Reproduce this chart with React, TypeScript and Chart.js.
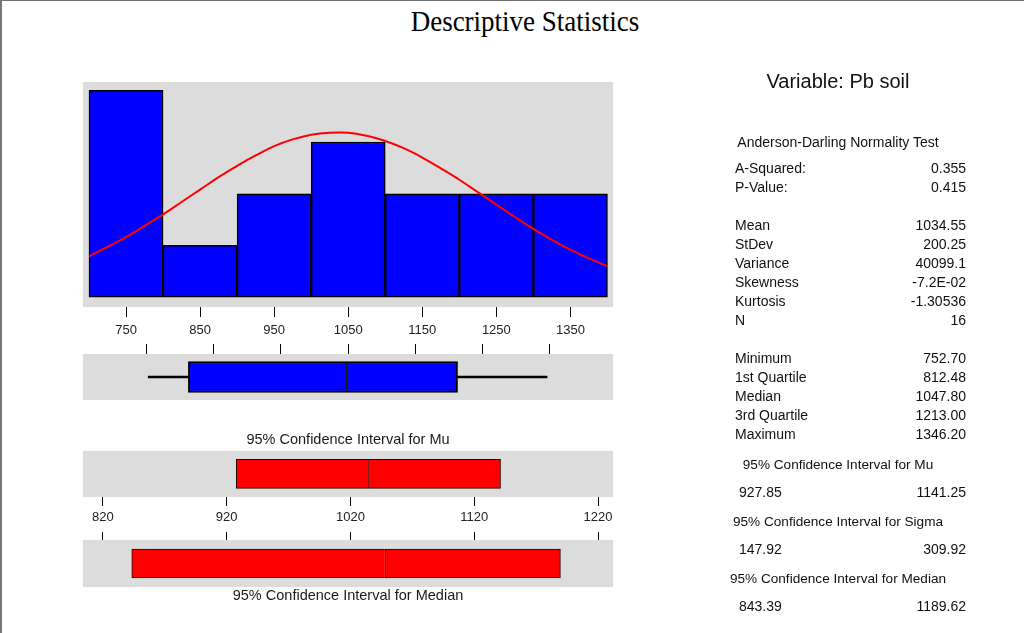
import React, { useEffect, useRef } from "react";
import { Chart, registerables } from "chart.js";

Chart.register(...registerables);

// ---------------- data ----------------
const binCenters = [750, 850, 950, 1050, 1150, 1250, 1350];
const binCounts = [4, 1, 2, 3, 2, 2, 2];
const histTicks = [750, 850, 950, 1050, 1150, 1250, 1350];

// fitted normal curve (in count units)
const curveX = [700, 725, 750, 775, 800, 825, 850, 875, 900, 925, 950, 975, 1000, 1025, 1050, 1075, 1100, 1125, 1150, 1175, 1200, 1225, 1250, 1275, 1300, 1325, 1350, 1375, 1400];
const curveY = [0.79, 0.97, 1.16, 1.38, 1.6, 1.84, 2.08, 2.32, 2.54, 2.74, 2.92, 3.05, 3.14, 3.18, 3.18, 3.12, 3.02, 2.88, 2.7, 2.49, 2.27, 2.03, 1.79, 1.55, 1.32, 1.11, 0.92, 0.75, 0.6];

const fiveNumbers = [752.7, 812.48, 1047.8, 1213.0, 1346.2]; // min, q1, median, q3, max
const boxTicks = [750, 850, 950, 1050, 1150, 1250, 1350];

const muInterval = [927.85, 1034.55, 1141.25]; // low, mean, high
const medianInterval = [843.39, 1047.8, 1189.62]; // low, median, high
const sigmaInterval = [147.92, 309.92];
const ciTicks = [820, 920, 1020, 1120, 1220];

const adLabels = ["A-Squared:", "P-Value:"];
const adValues = ["0.355", "0.415"];
const momentLabels = ["Mean", "StDev", "Variance", "Skewness", "Kurtosis", "N"];
const momentValues = ["1034.55", "200.25", "40099.1", "-7.2E-02", "-1.30536", "16"];
const quantLabels = ["Minimum", "1st Quartile", "Median", "3rd Quartile", "Maximum"];

// ---------------- styles ----------------
const SANS = "'Liberation Sans', Arial, sans-serif";
const PANEL = "#dcdcdc";
const W = 1024;
const H = 633;

const panelBg = {
  id: "panelBg",
  beforeDraw(chart: any) {
    const { ctx, chartArea: a } = chart;
    ctx.save();
    ctx.fillStyle = PANEL;
    ctx.fillRect(a.left, a.top, a.right - a.left, a.bottom - a.top);
    ctx.restore();
  },
};

const setTicks = (vals: number[]) => (s: any) => {
  s.ticks = vals.map((v) => ({ value: v }));
};

const tickFont = { family: SANS, size: 13 };

function histConfig(): any {
  return {
    type: "bar",
    data: {
      datasets: [
        {
          type: "line",
          data: curveX.map((x, i) => ({ x, y: curveY[i] })),
          borderColor: "#ff0000",
          borderWidth: 2,
          pointRadius: 0,
          tension: 0.4,
          order: 0,
        },
        {
          type: "bar",
          data: binCenters.map((x, i) => ({ x, y: binCounts[i] })),
          backgroundColor: "#0000ff",
          borderColor: "#000000",
          borderWidth: 1.5,
          borderSkipped: false,
          barPercentage: 1,
          categoryPercentage: 1,
          order: 1,
        },
      ],
    },
    options: {
      responsive: false,
      animation: false,
      events: [],
      layout: { padding: { left: 83, right: W - 613, top: 82, bottom: H - 307 - 40 } },
      plugins: { legend: { display: false }, tooltip: { enabled: false } },
      scales: {
        x: {
          type: "linear",
          offset: false,
          min: 691.9,
          max: 1407.5,
          afterBuildTicks: setTicks(histTicks),
          afterFit: (s: any) => {
            s.height = 40;
          },
          grid: { offset: false, drawOnChartArea: false, tickLength: 10, color: "#000", lineWidth: 1 },
          border: { display: false },
          ticks: {
            padding: 6,
            color: "#222",
            font: tickFont,
            maxRotation: 0,
            autoSkip: false,
            callback: (v: any) => String(v),
          },
        },
        y: { type: "linear", display: false, min: -0.19, max: 4.16 },
      },
    },
    plugins: [panelBg],
  };
}

function boxConfig(): any {
  const [mn, q1, md, q3, mx] = fiveNumbers;
  const common = { grouped: false, borderSkipped: false };
  return {
    type: "bar",
    data: {
      labels: ["Pb soil"],
      datasets: [
        { ...common, data: [[q1, md]], backgroundColor: "#0000ff", borderColor: "#000", borderWidth: { top: 2, bottom: 2, left: 2, right: 1 }, barThickness: 31 },
        { ...common, data: [[md, q3]], backgroundColor: "#0000ff", borderColor: "#000", borderWidth: { top: 2, bottom: 2, left: 1, right: 2 }, barThickness: 31 },
        { ...common, data: [[mn, q1]], backgroundColor: "#000", borderWidth: 0, barThickness: 2 },
        { ...common, data: [[q3, mx]], backgroundColor: "#000", borderWidth: 0, barThickness: 2 },
      ],
    },
    options: {
      indexAxis: "y",
      responsive: false,
      animation: false,
      events: [],
      layout: { padding: { left: 83, right: W - 613, top: 354 - 12, bottom: H - 400 } },
      plugins: { legend: { display: false }, tooltip: { enabled: false } },
      scales: {
        x: {
          type: "linear",
          position: "top",
          min: 655.7,
          max: 1444.3,
          afterBuildTicks: setTicks(boxTicks),
          afterFit: (s: any) => {
            s.height = 12;
          },
          grid: { drawOnChartArea: false, tickLength: 10, color: "#000", lineWidth: 1 },
          border: { display: false },
          ticks: { callback: () => "", padding: 0, autoSkip: false },
        },
        y: { type: "category", display: false },
      },
    },
    plugins: [panelBg],
  };
}

function ciConfig(kind: "mu" | "median"): any {
  const vals = kind === "mu" ? muInterval : medianInterval;
  const [lo, mid, hi] = vals;
  const common = { grouped: false, borderSkipped: false, barThickness: 29, backgroundColor: "#ff0000", borderColor: "#2a0000" };
  const isMu = kind === "mu";
  return {
    type: "bar",
    data: {
      labels: [kind],
      datasets: [
        { ...common, data: [[lo, mid]], borderWidth: { top: 1, bottom: 1, left: 1, right: 0 } },
        { ...common, data: [[mid, hi]], borderWidth: { top: 1, bottom: 1, left: 1, right: 1 } },
      ],
    },
    options: {
      indexAxis: "y",
      responsive: false,
      animation: false,
      events: [],
      layout: isMu
        ? { padding: { left: 83, right: W - 613, top: 431, bottom: H - 497 - 30 } }
        : { padding: { left: 83, right: W - 613, top: 540 - 10, bottom: H - 587 - 17.4 } },
      plugins: {
        legend: { display: false },
        tooltip: { enabled: false },
        title: {
          display: true,
          position: isMu ? "top" : "bottom",
          text: isMu ? "95% Confidence Interval for Mu" : "95% Confidence Interval for Median",
          color: "#1a1a1a",
          font: { family: SANS, size: 14.5, weight: "normal", lineHeight: 1.2 },
          padding: isMu ? { top: 0, bottom: 2.5 } : { top: 0, bottom: 0 },
        },
      },
      scales: {
        x: {
          type: "linear",
          position: isMu ? "bottom" : "top",
          min: 804,
          max: 1232.1,
          afterBuildTicks: setTicks(ciTicks),
          afterFit: (s: any) => {
            s.height = isMu ? 30 : 10;
          },
          grid: { drawOnChartArea: false, tickLength: isMu ? 9 : 8, color: "#000", lineWidth: 1 },
          border: { display: false },
          ticks: isMu
            ? { padding: 4, color: "#222", font: tickFont, maxRotation: 0, autoSkip: false, callback: (v: any) => String(v) }
            : { callback: () => "", padding: 0, autoSkip: false },
        },
        y: { type: "category", display: false },
      },
    },
    plugins: [panelBg],
  };
}

const canvasStyle: React.CSSProperties = { position: "absolute", left: 0, top: 0, width: W, height: H };

function Row(props: { label: string; value: string; y: number }) {
  return (
    <div
      style={{
        position: "absolute",
        left: 735,
        width: 231,
        top: props.y - 7,
        height: 14,
        lineHeight: "14px",
        fontSize: 14,
        display: "flex",
        justifyContent: "space-between",
        whiteSpace: "nowrap",
      }}
    >
      <span>{props.label}</span>
      <span>{props.value}</span>
    </div>
  );
}

function Centered(props: { text: string; y: number; size: number }) {
  return (
    <div
      style={{
        position: "absolute",
        left: 638,
        width: 400,
        textAlign: "center",
        top: props.y - props.size / 2,
        height: props.size,
        lineHeight: `${props.size}px`,
        fontSize: props.size,
        whiteSpace: "nowrap",
      }}
    >
      {props.text}
    </div>
  );
}

function Pair(props: { lo: number; hi: number; y: number }) {
  return (
    <div
      style={{
        position: "absolute",
        left: 739,
        width: 227,
        top: props.y - 7,
        height: 14,
        lineHeight: "14px",
        fontSize: 14,
        display: "flex",
        justifyContent: "space-between",
      }}
    >
      <span>{props.lo.toFixed(2)}</span>
      <span>{props.hi.toFixed(2)}</span>
    </div>
  );
}

export default function App() {
  const histRef = useRef<HTMLCanvasElement>(null);
  const boxRef = useRef<HTMLCanvasElement>(null);
  const muRef = useRef<HTMLCanvasElement>(null);
  const medRef = useRef<HTMLCanvasElement>(null);

  useEffect(() => {
    const charts: Chart[] = [];
    if (histRef.current) charts.push(new Chart(histRef.current, histConfig()));
    if (boxRef.current) charts.push(new Chart(boxRef.current, boxConfig()));
    if (muRef.current) charts.push(new Chart(muRef.current, ciConfig("mu")));
    if (medRef.current) charts.push(new Chart(medRef.current, ciConfig("median")));
    return () => charts.forEach((c) => c.destroy());
  }, []);

  return (
    <div
      style={{
        position: "fixed",
        left: 0,
        top: 0,
        width: W,
        height: H,
        background: "#ffffff",
        overflow: "hidden",
        fontFamily: SANS,
        color: "#111",
      }}
    >
      <div style={{ position: "absolute", left: 0, top: 0, width: W, height: 1, background: "#6e6e6e" }} />
      <div style={{ position: "absolute", left: 0, top: 0, width: 2, height: H, background: "#777" }} />
      <div
        style={{
          position: "absolute",
          left: 325,
          width: 400,
          top: 6,
          textAlign: "center",
          fontFamily: "'Liberation Serif', 'Times New Roman', serif",
          fontSize: 30,
          lineHeight: "30px",
          color: "#000",
          whiteSpace: "nowrap",
          transform: "scaleX(0.9)",
          transformOrigin: "50% 0",
        }}
      >
        Descriptive Statistics
      </div>

      <canvas ref={histRef} width={W} height={H} style={canvasStyle} />
      <canvas ref={boxRef} width={W} height={H} style={canvasStyle} />
      <canvas ref={muRef} width={W} height={H} style={canvasStyle} />
      <canvas ref={medRef} width={W} height={H} style={canvasStyle} />

      <Centered text="Variable: Pb soil" y={81} size={20} />
      <Centered text="Anderson-Darling Normality Test" y={142} size={14} />
      {adLabels.map((l, i) => (
        <Row key={l} label={l} value={adValues[i]} y={168 + 19 * i} />
      ))}
      {momentLabels.map((l, i) => (
        <Row key={l} label={l} value={momentValues[i]} y={225 + 18.9 * i} />
      ))}
      {quantLabels.map((l, i) => (
        <Row key={l} label={l} value={fiveNumbers[i].toFixed(2)} y={358 + 19 * i} />
      ))}
      <Centered text="95% Confidence Interval for Mu" y={465} size={13.6} />
      <Pair lo={muInterval[0]} hi={muInterval[2]} y={492} />
      <Centered text="95% Confidence Interval for Sigma" y={522} size={13.6} />
      <Pair lo={sigmaInterval[0]} hi={sigmaInterval[1]} y={549} />
      <Centered text="95% Confidence Interval for Median" y={579} size={13.6} />
      <Pair lo={medianInterval[0]} hi={medianInterval[2]} y={606} />
    </div>
  );
}
